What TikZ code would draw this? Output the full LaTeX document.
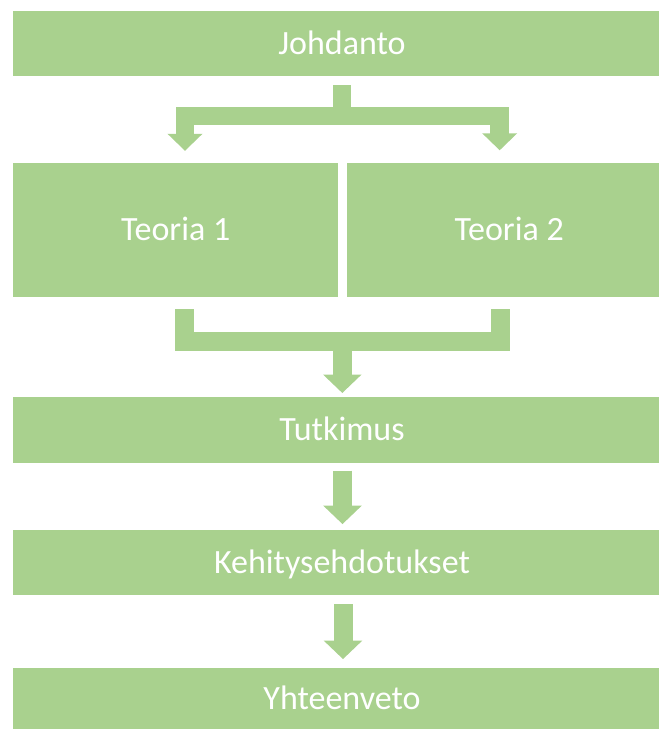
\documentclass[tikz,border=0pt]{standalone}
\usepackage{fontspec}
\setmainfont{Carlito}
\usetikzlibrary{arrows.meta,calc}
\definecolor{boxgreen}{HTML}{A9D18E}
\begin{document}
\begin{tikzpicture}[x=1pt,y=-1pt,
  box/.style={fill=boxgreen, draw=none, inner sep=0pt, text=white,
    font=\fontsize{34}{40}\selectfont, text height=21.9pt, text depth=0pt},
  flow/.style={draw=boxgreen, line width=18.5pt, line join=miter, line cap=butt},
  forktip/.style={{Triangle[width=34pt,length=17pt]}-{Triangle[width=34pt,length=17pt]}},
  downtip/.style={-{Triangle[width=37.5pt,length=18.5pt]}},
]
\useasboundingbox (0,0) rectangle (659,729);

% stages of the thesis (the wide bars run on past the right edge)
\node[box, minimum width=658pt, minimum height=65pt] (johdanto) at (342,43.5) {Johdanto};
\node[box, minimum width=325.3pt, minimum height=133.4pt] (teoria1) at (175.65,230) {Teoria 1};
\node[box, minimum width=323.7pt, minimum height=133.4pt] (teoria2) at (509.15,230) {Teoria 2};
\node[box, minimum width=658pt, minimum height=66.5pt] (tutkimus) at (342,429.75) {Tutkimus};
\node[box, minimum width=658pt, minimum height=65pt] (kehitys) at (342,562.5) {Kehitysehdotukset};
\node[box, minimum width=658pt, minimum height=60.7pt] (yhteenveto) at (342,698.65) {Yhteenveto};

% fork: introduction splits into the two theories
\coordinate (fa) at ($(johdanto.south)+(0,9)$);
\coordinate (fb) at ($(fa)+(0,31)$);
\coordinate (fl) at ($(teoria1.north)+(9.35,-12.3)$);
\coordinate (fr) at ($(teoria2.north)+(-9.45,-12.8)$);
\draw[flow] (fa) -- (fb);
\draw[flow, forktip] (fl) |- (fb) -| (fr);

% merge: both theories lead to the study
\coordinate (ml) at ($(teoria1.south)+(9,12.5)$);
\coordinate (mr) at ($(teoria2.south)+(-8.65,12.5)$);
\coordinate (mt) at ($(tutkimus.north)+(0.3,-3.3)$);
\coordinate (mj) at (mt |- 0,341.7);
\draw[flow] (ml) |- (mj) -| (mr);
\draw[flow, line width=19pt, downtip] (mj) -- (mt);

% straight steps down
\draw[flow, line width=19pt, downtip] ($(tutkimus.south)+(0.5,7.5)$) -- ($(kehitys.north)+(0.5,-5.7)$);
\draw[flow, line width=19pt, downtip] ($(kehitys.south)+(1,9)$) -- ($(yhteenveto.north)+(1,-9)$);
\end{tikzpicture}
\end{document}
